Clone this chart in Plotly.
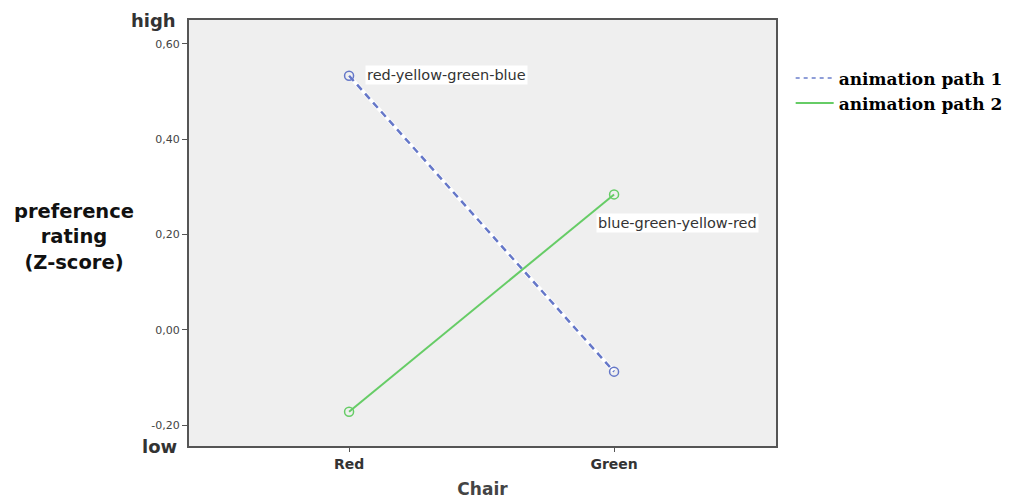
import plotly.graph_objects as go

categories = ["Red", "Green"]
path1_values = [0.533, -0.088]
path2_values = [-0.172, 0.284]
series_names = ["animation path 1", "animation path 2"]
tick_vals = [-0.2, 0.0, 0.2, 0.4, 0.6]
tick_text = ["-0,20", "0,00", "0,20", "0,40", "0,60"]

BLUE = "#6577c8"
GREEN = "#66cc66"

fig = go.Figure()
# white underlay for dashed path 1
fig.add_trace(go.Scatter(
    x=[0, 1], y=path1_values, mode="lines", showlegend=False, hoverinfo="skip",
    line=dict(color="white", width=4),
))
fig.add_trace(go.Scatter(
    x=[0, 1], y=path1_values, name=series_names[0], mode="lines+markers", showlegend=False,
    line=dict(color=BLUE, width=2.5, dash="7px,5px"),
    marker=dict(symbol="circle-open", size=9, color=BLUE, line=dict(width=1.5)),
))
fig.add_trace(go.Scatter(
    x=[0, 1], y=path2_values, name=series_names[1], mode="lines+markers", showlegend=False,
    line=dict(color=GREEN, width=2),
    marker=dict(symbol="circle-open", size=9, color=GREEN, line=dict(width=1.5)),
))
# legend-only entries (lines without markers)
fig.add_trace(go.Scatter(
    x=[None], y=[None], name=series_names[0], mode="lines",
    line=dict(color="#8f9ed8", width=2, dash="4px,4px"),
))
fig.add_trace(go.Scatter(
    x=[None], y=[None], name=series_names[1], mode="lines",
    line=dict(color=GREEN, width=2),
))

fig.add_annotation(x=0, y=path1_values[0], text="red-yellow-green-blue", showarrow=False,
                   xanchor="left", xshift=16, yshift=1, bgcolor="white", borderpad=1,
                   font=dict(family="DejaVu Sans", size=14.5, color="#333"))
fig.add_annotation(x=1, y=path2_values[1], text="blue-green-yellow-red", showarrow=False,
                   xanchor="left", xshift=-18, yshift=-29, bgcolor="white", borderpad=1,
                   font=dict(family="DejaVu Sans", size=14.5, color="#333"))

fig.add_annotation(xref="paper", yref="paper", x=-0.019, y=1.0, text="<b>high</b>", showarrow=False,
                   xanchor="right", yanchor="middle", font=dict(family="DejaVu Sans", size=18, color="#333"))
fig.add_annotation(xref="paper", yref="paper", x=-0.05, y=0.0, text="<b>low</b>", showarrow=False,
                   xanchor="center", yanchor="middle", font=dict(family="DejaVu Sans", size=18, color="#333"))
fig.add_annotation(xref="paper", yref="paper", x=-0.196, y=0.49,
                   text="<b>preference<br>rating<br>(Z-score)</b>", showarrow=False,
                   xanchor="center", yanchor="middle",
                   font=dict(family="DejaVu Sans", size=19.5, color="#111"))

fig.update_layout(
    width=1015, height=502,
    margin=dict(l=181, r=247, t=10, b=64),
    plot_bgcolor="#efefef", paper_bgcolor="white",
    showlegend=True,
    legend=dict(x=1.025, y=0.905, xanchor="left", yanchor="top", bgcolor="rgba(0,0,0,0)",
                font=dict(family="DejaVu Serif", size=17, color="#000", weight="bold"),
                tracegroupgap=0, itemwidth=38),
    xaxis=dict(
        range=[-0.604, 1.611], tickvals=[0, 1], ticktext=["<b>%s</b>" % c for c in categories],
        showgrid=False, zeroline=False, showline=True, linecolor="#555", linewidth=2,
        mirror=True, ticks="outside", ticklen=4, tickcolor="#555",
        tickfont=dict(family="DejaVu Sans", size=14, color="#333"),
        title=dict(text="<b>Chair</b>", font=dict(family="DejaVu Sans", size=17, color="#444"), standoff=12),
    ),
    yaxis=dict(
        range=[-0.244, 0.65], tickvals=tick_vals, ticktext=tick_text,
        showgrid=False, zeroline=False, showline=True, linecolor="#555", linewidth=2,
        mirror=True, ticks="outside", ticklen=5, tickcolor="#555",
        tickfont=dict(family="DejaVu Sans", size=11, color="#444"),
    ),
)

fig.write_html("out.html")
